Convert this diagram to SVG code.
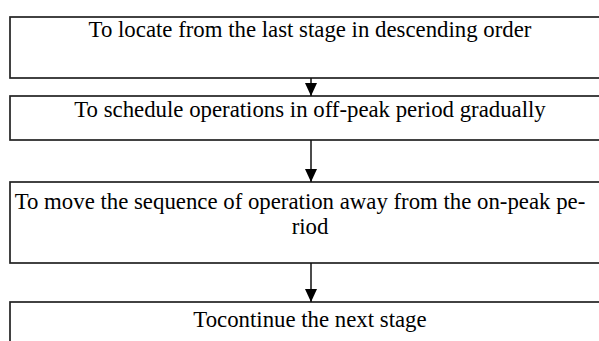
<svg xmlns="http://www.w3.org/2000/svg" width="599" height="341" viewBox="0 0 599 341">
<defs>
<marker id="ah" markerWidth="13" markerHeight="12" refX="13" refY="6" orient="auto" markerUnits="userSpaceOnUse" viewBox="0 0 13 12">
<path d="M0,0 L13,6 L0,12 Z" fill="#000"/>
</marker>
</defs>
<style>
.box{fill:#fff;stroke:#222;stroke-width:1.7}
.lbl{font-family:"Liberation Serif","Times New Roman",serif;font-size:22.8px;fill:#000;text-anchor:middle}
.conn{stroke:#111;stroke-width:1.5;fill:none}
</style>
<rect width="599" height="341" fill="#fff"/>
<g id="n1"><rect class="box" x="10" y="17" width="600" height="61"/><text class="lbl" x="310" y="37">To locate from the last stage in descending order</text></g>
<g id="n2"><rect class="box" x="10" y="96" width="600" height="44"/><text class="lbl" x="310" y="117">To schedule operations in off-peak period gradually</text></g>
<g id="n3"><rect class="box" x="10" y="182" width="600" height="81"/><text class="lbl" x="300" y="209">To move the sequence of operation away from the on-peak pe-</text><text class="lbl" x="310" y="234">riod</text></g>
<g id="n4"><rect class="box" x="10" y="302" width="600" height="60"/><text class="lbl" x="310" y="327">Tocontinue the next stage</text></g>
<g id="connectors">
<line class="conn" x1="311" y1="78" x2="311" y2="96" marker-end="url(#ah)"/>
<line class="conn" x1="311" y1="140" x2="311" y2="182" marker-end="url(#ah)"/>
<line class="conn" x1="311" y1="263" x2="311" y2="302" marker-end="url(#ah)"/>
</g>
</svg>
